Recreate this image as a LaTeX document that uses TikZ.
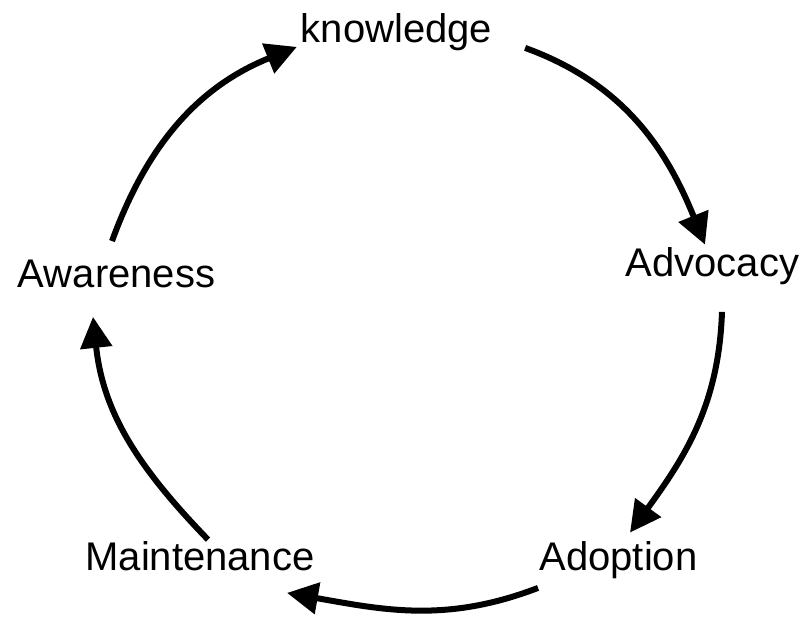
\documentclass[tikz,border=0pt]{standalone}
\usepackage{fontspec}
\setmainfont{Liberation Sans}
\usetikzlibrary{arrows.meta}

\tikzset{
  stage/.style={inner sep=0pt, outer sep=0pt, anchor=base, font=\fontsize{40}{48}\selectfont},
  cycarrow/.style={line width=6pt, -{Triangle[length=31pt,width=31pt]}},
}

\begin{document}
\begin{tikzpicture}[x=1pt,y=1pt]
\useasboundingbox (0,0) rectangle (806,619);
% the five stages
\node[stage] (know)  at (396.5,576) {knowledge};
\node[stage] (advo)  at (712.5,342) {Advocacy};
\node[stage] (adopt) at (618.5,49)  {Adoption};
\node[stage] (maint) at (200,49)    {Maintenance};
\node[stage] (aware) at (116.5,331) {Awareness};
% arrows round the cycle
\draw[cycarrow] ([shift={(-4.5,19.4)}]aware.north) to[out=70,in=202] ([shift={(-4,4.4)}]know.south west);
\draw[cycarrow] ([shift={(33,3.4)}]know.south east) to[out=-20,in=112] ([shift={(-7.5,3.4)}]advo.north);
\draw[cycarrow] ([shift={(9.5,-26.6)}]advo.south) to[out=-92,in=54] ([shift={(11.5,8.4)}]adopt.north);
\draw[cycarrow] ([shift={(-1.5,-9.6)}]adopt.south west) to[out=201,in=-10] ([shift={(-27.5,-22.5)}]maint.south east);
\draw[cycarrow] ([shift={(8,1.4)}]maint.north) to[out=134,in=-84] ([shift={(-23.5,-28.5)}]aware.south);
\end{tikzpicture}
\end{document}
